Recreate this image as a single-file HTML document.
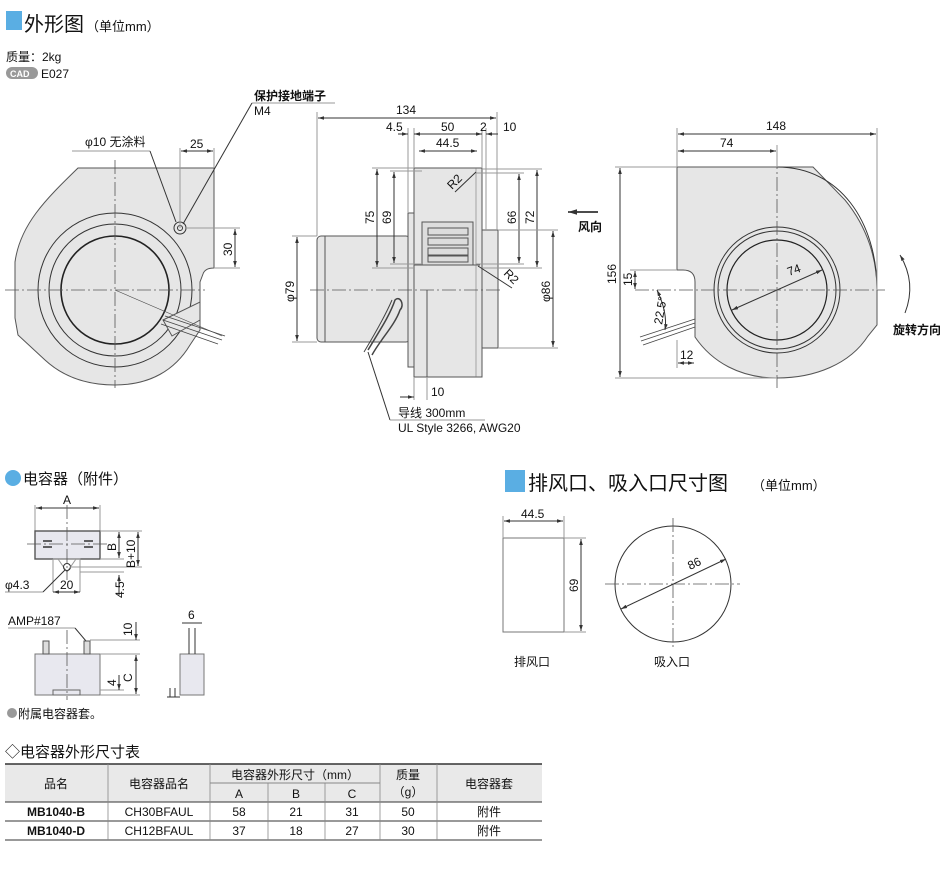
<!DOCTYPE html>
<html><head><meta charset="utf-8"><style>
body{margin:0;background:#fff}
svg{display:block}
text{font-family:"Liberation Sans","Noto Sans CJK SC",sans-serif;fill:#111}
.d{font-size:12px}
.ln{stroke:#999;stroke-width:1;fill:none}
.dk{stroke:#333;stroke-width:1;fill:none}
.c{stroke:#555;stroke-width:0.8;fill:none;stroke-dasharray:14 3 2 3}
.f{fill:#e6e6e6;stroke:#555;stroke-width:1}
</style></head><body>
<svg width="946" height="892" viewBox="0 0 946 892" xmlns="http://www.w3.org/2000/svg">
<defs>
<marker id="a" viewBox="0 0 10 10" refX="10" refY="5" markerWidth="6" markerHeight="6" orient="auto-start-reverse"><path d="M0,2 L10,5 L0,8 z" fill="#333"/></marker>
</defs>
<!-- header -->
<rect x="6" y="11" width="16" height="19" fill="#5aaee3"/>
<text x="24" y="31" font-size="20">外形图</text>
<text x="86" y="31" font-size="13">（单位mm）</text>
<text x="6" y="61" font-size="12">质量：2kg</text>
<rect x="6" y="67" width="32" height="12" rx="6" fill="#999"/>
<text x="10" y="77" font-size="9" font-weight="bold" style="fill:#fff">CAD</text>
<text x="41" y="78" font-size="12">E027</text>

<!-- LEFT VIEW -->
<path class="f" d="M78,168 L214,168 L214,268 Q205,268 203,274 L200,282 L200,330 L190,345 C175,370 150,385 115,385 C80,385 58,372 45,360 L18,335 L15,318 L15,262 C20,225 45,200 78,168 Z"/>
<circle cx="115" cy="290" r="77" class="dk"/>
<circle cx="115" cy="290" r="66" class="dk"/>
<circle cx="115" cy="290" r="54" stroke="#222" stroke-width="1.6" fill="#e6e6e6"/>
<path d="M163,320 L200,302 L200,320 L172,336 Z" fill="#e6e6e6" stroke="#555"/>
<g stroke="#444" stroke-width="0.8"><line x1="165" y1="316" x2="225" y2="336"/><line x1="163" y1="320" x2="222" y2="340"/><line x1="161" y1="324" x2="218" y2="344"/></g>
<line x1="115" y1="290" x2="222" y2="336" stroke="#444" stroke-width="0.6"/>
<line x1="5" y1="290" x2="205" y2="290" class="c"/>
<line x1="115" y1="160" x2="115" y2="388" class="c"/>
<circle cx="180" cy="228" r="6" class="dk"/><circle cx="180" cy="228" r="2.5" class="dk"/>
<text x="85" y="146" font-size="12">φ10 无涂料</text>
<line x1="72" y1="151" x2="150" y2="151" class="ln"/>
<line x1="150" y1="151" x2="176" y2="222" class="dk"/>
<line x1="180" y1="148" x2="180" y2="228" class="ln"/>
<line x1="214" y1="148" x2="214" y2="168" class="ln"/>
<line x1="181" y1="151" x2="213" y2="151" class="dk" marker-start="url(#a)" marker-end="url(#a)"/>
<text x="190" y="148" class="d">25</text>
<line x1="186" y1="228" x2="240" y2="228" class="ln"/>
<line x1="214" y1="268" x2="240" y2="268" class="ln"/>
<line x1="235" y1="229" x2="235" y2="267" class="dk" marker-start="url(#a)" marker-end="url(#a)"/>
<text class="d" transform="translate(232,256) rotate(-90)">30</text>
<text x="254" y="100" font-size="12" font-weight="bold">保护接地端子</text>
<text x="254" y="115" font-size="12">M4</text>
<line x1="252" y1="103" x2="335" y2="103" class="ln"/>
<line x1="252" y1="103" x2="183" y2="224" class="dk"/>

<!-- MIDDLE VIEW -->
<rect x="317" y="236" width="93" height="106" rx="4" class="f"/>
<line x1="325" y1="236" x2="325" y2="342" stroke="#555"/>
<rect x="408" y="213" width="6" height="154" class="f"/>
<rect x="414" y="168" width="68" height="209" class="f"/>
<rect x="482" y="230" width="16" height="118" class="f"/>
<rect x="422" y="222" width="51" height="43" fill="#ddd" stroke="#555"/>
<g stroke="#555" fill="none"><rect x="428" y="228" width="40" height="7"/><rect x="428" y="238" width="40" height="7"/><rect x="428" y="248" width="40" height="7"/><rect x="428" y="256" width="40" height="6"/></g>
<line x1="414" y1="265" x2="480" y2="265" stroke="#555"/>
<line x1="427" y1="290" x2="427" y2="377" stroke="#555"/>
<line x1="476" y1="168" x2="476" y2="377" stroke="#777" stroke-width="0.6"/>
<line x1="310" y1="290" x2="500" y2="290" class="c"/>
<path d="M368,350 C380,330 390,315 395,300 C400,295 405,305 400,310 C395,325 380,340 372,355" fill="none" stroke="#444" stroke-width="1.5"/>
<path d="M364,352 C376,332 386,314 392,300" fill="none" stroke="#444"/>
<!-- dims -->
<line x1="317" y1="112" x2="317" y2="236" class="ln"/>
<line x1="497" y1="112" x2="497" y2="230" class="ln"/>
<line x1="318" y1="118" x2="496" y2="118" class="dk" marker-start="url(#a)" marker-end="url(#a)"/>
<text x="396" y="114" class="d">134</text>
<line x1="408" y1="128" x2="408" y2="213" class="ln"/>
<line x1="414" y1="128" x2="414" y2="168" class="ln"/>
<line x1="482" y1="128" x2="482" y2="168" class="ln"/>
<line x1="486" y1="128" x2="486" y2="230" class="ln"/>
<line x1="398" y1="134" x2="408" y2="134" class="dk" marker-end="url(#a)"/>
<line x1="414" y1="134" x2="482" y2="134" class="dk" marker-start="url(#a)" marker-end="url(#a)"/>
<line x1="486" y1="134" x2="498" y2="134" class="dk" marker-start="url(#a)"/>
<text x="386" y="131" class="d">4.5</text>
<text x="441" y="131" class="d">50</text>
<text x="480" y="131" class="d">2</text>
<text x="503" y="131" class="d">10</text>
<line x1="419" y1="151" x2="477" y2="151" class="dk" marker-start="url(#a)" marker-end="url(#a)"/>
<text x="436" y="147" class="d">44.5</text>
<line x1="372" y1="168" x2="414" y2="168" class="ln"/><line x1="372" y1="268" x2="414" y2="268" class="ln"/>
<line x1="377" y1="169" x2="377" y2="267" class="dk" marker-start="url(#a)" marker-end="url(#a)"/>
<text class="d" transform="translate(374,224) rotate(-90)">75</text>
<line x1="390" y1="171" x2="422" y2="171" class="ln"/><line x1="390" y1="264" x2="422" y2="264" class="ln"/>
<line x1="394" y1="172" x2="394" y2="263" class="dk" marker-start="url(#a)" marker-end="url(#a)"/>
<text class="d" transform="translate(391,224) rotate(-90)">69</text>
<line x1="476" y1="173" x2="524" y2="173" class="ln"/><line x1="476" y1="264" x2="524" y2="264" class="ln"/>
<line x1="519" y1="174" x2="519" y2="263" class="dk" marker-start="url(#a)" marker-end="url(#a)"/>
<text class="d" transform="translate(516,224) rotate(-90)">66</text>
<line x1="482" y1="169" x2="542" y2="169" class="ln"/><line x1="482" y1="268" x2="542" y2="268" class="ln"/>
<line x1="537" y1="170" x2="537" y2="267" class="dk" marker-start="url(#a)" marker-end="url(#a)"/>
<text class="d" transform="translate(534,224) rotate(-90)">72</text>
<line x1="498" y1="230" x2="558" y2="230" class="ln"/><line x1="498" y1="348" x2="558" y2="348" class="ln"/>
<line x1="553" y1="231" x2="553" y2="347" class="dk" marker-start="url(#a)" marker-end="url(#a)"/>
<text class="d" transform="translate(550,302) rotate(-90)">φ86</text>
<line x1="292" y1="236" x2="317" y2="236" class="ln"/><line x1="292" y1="342" x2="317" y2="342" class="ln"/>
<line x1="297" y1="237" x2="297" y2="341" class="dk" marker-start="url(#a)" marker-end="url(#a)"/>
<text class="d" transform="translate(294,302) rotate(-90)">φ79</text>
<text class="d" transform="translate(452,190) rotate(-45)">R2</text>
<line x1="476" y1="172" x2="455" y2="192" class="dk"/>
<text class="d" transform="translate(503,274) rotate(45)">R2</text>
<line x1="478" y1="266" x2="512" y2="288" class="dk"/>
<line x1="414" y1="377" x2="414" y2="400" class="ln"/><line x1="427" y1="377" x2="427" y2="400" class="ln"/>
<line x1="400" y1="397" x2="414" y2="397" class="dk" marker-end="url(#a)"/>
<text x="431" y="396" class="d">10</text>
<line x1="368" y1="352" x2="390" y2="420" class="dk"/>
<line x1="390" y1="420" x2="485" y2="420" class="ln"/>
<text x="398" y="417" font-size="12">导线 300mm</text>
<text x="398" y="432" font-size="12">UL Style 3266, AWG20</text>
<line x1="568" y1="212" x2="598" y2="212" stroke="#111" stroke-width="1.5" marker-start="url(#a)"/>
<text x="578" y="231" font-size="12" font-weight="bold">风向</text>

<!-- RIGHT VIEW -->
<path class="f" d="M677,167 L813,167 L845,200 C868,228 877,260 877,290 L877,325 L868,336 C850,364 815,378 777,378 C740,378 712,362 695,337 L695,282 Q695,270 683,270 L677,270 Z"/>
<path d="M777,167 C840,167 877,222 877,290" class="dk"/>
<circle cx="777" cy="290" r="63" class="dk"/>
<circle cx="777" cy="290" r="59" class="dk"/>
<circle cx="777" cy="290" r="50" stroke="#222" stroke-width="1.2" fill="#e6e6e6"/>
<line x1="732" y1="310" x2="822" y2="270" class="dk" marker-start="url(#a)" marker-end="url(#a)"/>
<text class="d" transform="translate(789,276) rotate(-20)">74</text>
<line x1="635" y1="290" x2="885" y2="290" class="c"/>
<line x1="777" y1="155" x2="777" y2="388" class="c"/>
<g stroke="#444" stroke-width="0.8"><line x1="640" y1="337" x2="695" y2="319"/><line x1="641" y1="341" x2="695" y2="323"/><line x1="643" y1="345" x2="695" y2="327"/></g>
<line x1="677" y1="128" x2="677" y2="167" class="ln"/><line x1="877" y1="128" x2="877" y2="290" class="ln"/><line x1="777" y1="145" x2="777" y2="167" class="ln"/>
<line x1="678" y1="134" x2="876" y2="134" class="dk" marker-start="url(#a)" marker-end="url(#a)"/>
<text x="766" y="130" class="d">148</text>
<line x1="678" y1="151" x2="776" y2="151" class="dk" marker-start="url(#a)" marker-end="url(#a)"/>
<text x="720" y="147" class="d">74</text>
<line x1="615" y1="167" x2="677" y2="167" class="ln"/><line x1="615" y1="378" x2="777" y2="378" class="ln"/>
<line x1="620" y1="168" x2="620" y2="377" class="dk" marker-start="url(#a)" marker-end="url(#a)"/>
<text class="d" transform="translate(616,284) rotate(-90)">156</text>
<line x1="630" y1="270" x2="677" y2="270" class="ln"/>
<line x1="635" y1="271" x2="635" y2="289" class="dk" marker-start="url(#a)" marker-end="url(#a)"/>
<text class="d" transform="translate(632,286) rotate(-90)">15</text>
<path d="M657,290 C664,305 667,318 665,330" class="dk" marker-start="url(#a)" marker-end="url(#a)"/>
<text class="d" transform="translate(662,325) rotate(-80)">22.5°</text>
<line x1="677" y1="340" x2="677" y2="368" class="ln"/>
<line x1="678" y1="363" x2="694" y2="363" class="dk" marker-start="url(#a)" marker-end="url(#a)"/>
<text x="680" y="359" class="d">12</text>
<path d="M905,313 C912,295 912,275 900,255" class="dk" marker-end="url(#a)"/>
<text x="893" y="334" font-size="12" font-weight="bold">旋转方向</text>

<!-- CAPACITOR -->
<circle cx="13" cy="478" r="8" fill="#5aaee3"/>
<text x="23" y="484" font-size="15">电容器（附件）</text>
<line x1="35" y1="505" x2="35" y2="531" class="ln"/><line x1="100" y1="505" x2="100" y2="531" class="ln"/>
<line x1="36" y1="508" x2="99" y2="508" class="dk" marker-start="url(#a)" marker-end="url(#a)"/>
<text x="63" y="504" class="d">A</text>
<rect x="35" y="531" width="65" height="28" fill="#e8e8ef" stroke="#555" stroke-width="1.4"/>
<g stroke="#333" stroke-width="1.5"><line x1="43" y1="541" x2="52" y2="541"/><line x1="43" y1="547" x2="52" y2="547"/><line x1="84" y1="541" x2="93" y2="541"/><line x1="84" y1="547" x2="93" y2="547"/></g>
<path d="M53,559 L80,559 L80,592 M53,559 L53,592" class="ln"/>
<path d="M58,559 L67,572 L76,559" class="ln"/>
<circle cx="67" cy="567" r="3.5" class="dk"/>
<line x1="27" y1="544" x2="110" y2="544" class="c"/>
<line x1="67" y1="505" x2="67" y2="580" class="c"/>
<line x1="100" y1="531" x2="142" y2="531" class="ln"/><line x1="100" y1="559" x2="124" y2="559" class="ln"/>
<line x1="70" y1="567" x2="142" y2="567" class="ln"/><line x1="80" y1="572" x2="124" y2="572" class="ln"/>
<line x1="119" y1="532" x2="119" y2="558" class="dk" marker-start="url(#a)" marker-end="url(#a)"/>
<text class="d" transform="translate(116,551) rotate(-90)">B</text>
<line x1="138" y1="532" x2="138" y2="566" class="dk" marker-start="url(#a)" marker-end="url(#a)"/>
<text class="d" transform="translate(135,568) rotate(-90)">B+10</text>
<line x1="119" y1="575" x2="119" y2="595" class="dk" marker-start="url(#a)"/>
<text class="d" transform="translate(124,598) rotate(-90)">4.5</text>
<line x1="53" y1="592" x2="80" y2="592" class="dk" marker-start="url(#a)" marker-end="url(#a)"/>
<text x="60" y="589" class="d">20</text>
<text x="5" y="589" class="d">φ4.3</text>
<line x1="5" y1="592" x2="43" y2="592" class="ln"/><line x1="43" y1="592" x2="65" y2="570" class="dk"/>
<text x="8" y="625" class="d">AMP#187</text>
<line x1="8" y1="628" x2="75" y2="628" class="ln"/><line x1="75" y1="628" x2="86" y2="641" class="dk"/>
<rect x="35" y="654" width="65" height="41" fill="#e8e8ef" stroke="#777"/>
<rect x="43" y="641" width="6" height="13" fill="#ddd" stroke="#555"/><rect x="84" y="641" width="6" height="13" fill="#ddd" stroke="#555"/>
<rect x="53" y="690" width="27" height="5" fill="none" stroke="#666"/>
<line x1="67" y1="630" x2="67" y2="700" class="c"/>
<line x1="90" y1="640" x2="140" y2="640" class="ln"/><line x1="100" y1="654" x2="140" y2="654" class="ln"/><line x1="100" y1="690" x2="124" y2="690" class="ln"/><line x1="100" y1="695" x2="140" y2="695" class="ln"/>
<line x1="136" y1="622" x2="136" y2="640" class="dk" marker-end="url(#a)"/>
<text class="d" transform="translate(132,636) rotate(-90)">10</text>
<line x1="136" y1="655" x2="136" y2="694" class="dk" marker-start="url(#a)" marker-end="url(#a)"/>
<text class="d" transform="translate(132,682) rotate(-90)">C</text>
<line x1="119" y1="675" x2="119" y2="690" class="dk" marker-end="url(#a)"/>
<text class="d" transform="translate(116,686) rotate(-90)">4</text>
<rect x="180" y="654" width="24" height="41" fill="#e8e8ef" stroke="#777"/>
<line x1="189" y1="628" x2="189" y2="654" stroke="#333"/><line x1="195" y1="628" x2="195" y2="654" stroke="#333"/>
<line x1="182" y1="623" x2="202" y2="623" class="dk"/>
<text x="188" y="619" class="d">6</text>
<path d="M167,697 L180,697 M170,688 L170,697 M175,688 L175,697" class="dk"/>
<circle cx="12" cy="713" r="5" fill="#999"/>
<text x="18" y="718" font-size="12">附属电容器套。</text>

<!-- OUTLET/INLET -->
<rect x="505" y="470" width="20" height="22" fill="#5aaee3"/>
<text x="528" y="490" font-size="20">排风口、吸入口尺寸图</text>
<text x="752" y="490" font-size="13">（单位mm）</text>
<rect x="503" y="538" width="61" height="94" fill="#fff" stroke="#777"/>
<line x1="503" y1="516" x2="503" y2="538" class="ln"/><line x1="564" y1="516" x2="564" y2="538" class="ln"/>
<line x1="504" y1="521" x2="563" y2="521" class="dk" marker-start="url(#a)" marker-end="url(#a)"/>
<text x="521" y="518" class="d">44.5</text>
<line x1="564" y1="538" x2="586" y2="538" class="ln"/><line x1="564" y1="632" x2="586" y2="632" class="ln"/>
<line x1="581" y1="539" x2="581" y2="631" class="dk" marker-start="url(#a)" marker-end="url(#a)"/>
<text class="d" transform="translate(578,592) rotate(-90)">69</text>
<text x="514" y="666" font-size="12">排风口</text>
<circle cx="673" cy="584" r="58" fill="none" stroke="#333"/>
<line x1="605" y1="584" x2="740" y2="584" class="c"/>
<line x1="673" y1="518" x2="673" y2="650" class="c"/>
<line x1="621" y1="609" x2="726" y2="559" class="dk" marker-start="url(#a)" marker-end="url(#a)"/>
<text class="d" transform="translate(690,570) rotate(-25)">86</text>
<text x="654" y="666" font-size="12">吸入口</text>

<!-- TABLE -->
<text x="5" y="757" font-size="15">◇电容器外形尺寸表</text>
<rect x="5" y="764" width="537" height="38" fill="#e9e9e9"/>
<line x1="5" y1="764" x2="542" y2="764" stroke="#333" stroke-width="1.5"/>
<line x1="210" y1="783" x2="380" y2="783" stroke="#666" stroke-width="0.8"/>
<line x1="5" y1="802" x2="542" y2="802" stroke="#333"/>
<line x1="5" y1="821" x2="542" y2="821" stroke="#333"/>
<line x1="5" y1="840" x2="542" y2="840" stroke="#333"/>
<g stroke="#888" stroke-width="0.8"><line x1="108" y1="764" x2="108" y2="840"/><line x1="210" y1="764" x2="210" y2="840"/><line x1="268" y1="783" x2="268" y2="840"/><line x1="325" y1="783" x2="325" y2="840"/><line x1="380" y1="764" x2="380" y2="840"/><line x1="437" y1="764" x2="437" y2="840"/></g>
<g font-size="12" text-anchor="middle">
<text x="56" y="788">品名</text><text x="159" y="788">电容器品名</text>
<text x="295" y="779">电容器外形尺寸（mm）</text>
<text x="239" y="798">A</text><text x="296" y="798">B</text><text x="352" y="798">C</text>
<text x="408" y="779">质量</text><text x="408" y="796">（g）</text>
<text x="489" y="788">电容器套</text>
<text x="56" y="816" font-weight="bold">MB1040-B</text><text x="159" y="816">CH30BFAUL</text>
<text x="239" y="816">58</text><text x="296" y="816">21</text><text x="352" y="816">31</text><text x="408" y="816">50</text><text x="489" y="816">附件</text>
<text x="56" y="835" font-weight="bold">MB1040-D</text><text x="159" y="835">CH12BFAUL</text>
<text x="239" y="835">37</text><text x="296" y="835">18</text><text x="352" y="835">27</text><text x="408" y="835">30</text><text x="489" y="835">附件</text>
</g>
</svg>
</body></html>
